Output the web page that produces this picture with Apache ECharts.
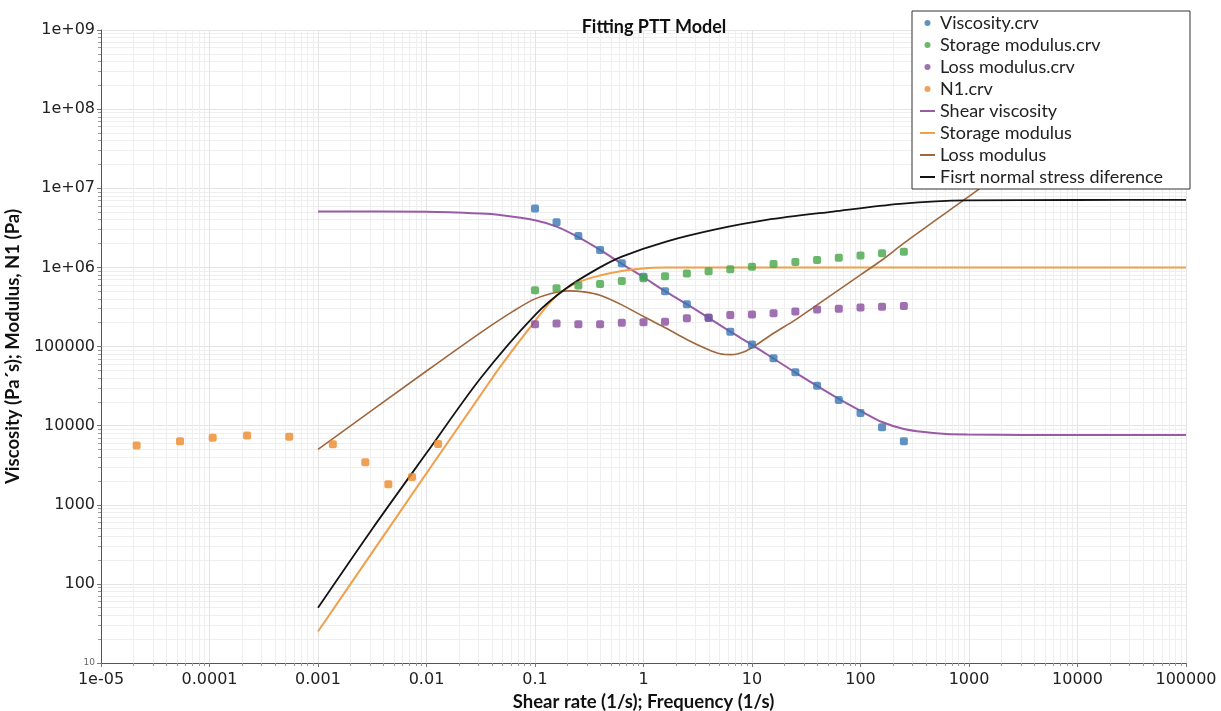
<!DOCTYPE html>
<html><head><meta charset="utf-8">
<script src="https://cdn.jsdelivr.net/npm/echarts@6/dist/echarts.min.js"></script>
<style>html,body{margin:0;padding:0;background:#fff}#c{width:1221px;height:711px}</style>
</head><body><div id="c"></div>
<script>
// ---------- data ----------
const titleText = 'Fitting PTT Model';
const xAxisTitle = 'Shear rate (1/s); Frequency (1/s)';
const yAxisTitle = 'Viscosity (Pa´s); Modulus, N1 (Pa)';
const xTickLabels = ['1e-05','0.0001','0.001','0.01','0.1','1','10','100','1000','10000','100000'];
const yTickLabels = ['10','100','1000','10000','100000','1e+06','1e+07','1e+08','1e+09'];

const seriesNames = ['Viscosity.crv','Storage modulus.crv','Loss modulus.crv','N1.crv',
  'Shear viscosity','Storage modulus','Loss modulus','Fisrt normal stress diference'];

// measured points (frequency / shear rate)
const measFreq = [0.1,0.158,0.251,0.398,0.631,1,1.58,2.51,3.98,6.31,10,15.8,25.1,39.8,63.1,100,158,251];
const viscosityPts = [5.54e6,3.73e6,2.50e6,1.66e6,1.13e6,7.6e5,5.0e5,3.43e5,2.30e5,1.54e5,1.06e5,7.11e4,4.73e4,3.18e4,2.11e4,1.44e4,9550,6350];
const storagePts = [5.15e5,5.46e5,5.89e5,6.18e5,6.75e5,7.30e5,7.74e5,8.35e5,8.96e5,9.49e5,1.02e6,1.10e6,1.17e6,1.24e6,1.32e6,1.41e6,1.51e6,1.58e6];
const lossPts = [1.91e5,1.95e5,1.91e5,1.91e5,2.00e5,2.03e5,2.06e5,2.28e5,2.32e5,2.51e5,2.53e5,2.64e5,2.76e5,2.93e5,3.01e5,3.10e5,3.17e5,3.26e5];
const n1Rate = [2.13e-5,5.35e-5,1.07e-4,2.22e-4,5.43e-4,1.37e-3,2.73e-3,4.45e-3,7.35e-3,0.0128];
const n1Pts = [5590,6350,7050,7480,7260,5820,3440,1815,2245,5870];

// model curves
const shearX = [0.001,0.01,0.0316,0.0475,0.1,0.158,0.251,0.398,0.631,1,1.58,2.51,3.98,6.31,10,15.8,25.1,39.8,63.1,100,158,251,466,959,10000,100000];
const shearY = [5.1e6,5.05e6,4.8e6,4.6e6,3.95e6,3.28e6,2.41e6,1.66e6,1.11e6,7.5e5,5.0e5,3.43e5,2.30e5,1.54e5,1.05e5,7.03e4,4.68e4,3.18e4,2.18e4,1.54e4,1.11e4,9080,8090,7700,7600,7600];
const storX = [0.001,0.00316,0.01,0.0316,0.0475,0.1,0.158,0.251,0.397,0.631,1,1.58,3.98,10,100,1000,10000,100000];
const storY = [25,250,2500,2.45e4,5.5e4,2.1e5,4.4e5,6.5e5,7.9e5,9.0e5,9.7e5,9.95e5,1.0e6,1.0e6,1.0e6,1.0e6,1.0e6,1.0e6];
const lossX = [0.001,0.01,0.0316,0.0631,0.1,0.158,0.21,0.282,0.397,0.632,1,1.62,2.55,3.98,5.07,6.5,8.5,10.4,15.8,25.1,39.8,63.1,100,158,251,668,1000,10000,100000];
const lossY = [5000,4.9e4,1.5e5,2.8e5,4.0e5,4.85e5,5.05e5,4.9e5,4.45e5,3.36e5,2.39e5,1.70e5,1.21e5,9.1e4,8.1e4,7.9e4,8.6e4,1.0e5,1.47e5,2.17e5,3.36e5,5.2e5,8.04e5,1.24e6,2.02e6,5.33e6,7.9e6,7.9e7,7.9e8];
const n1FitX = [0.001,0.00316,0.01,0.0316,0.1,0.2,0.397,0.632,1.62,4.73,13.6,56.1,231,952,10000,100000];
const n1FitY = [50,495,4500,4.0e4,2.5e5,5.6e5,1.0e6,1.37e6,2.12e6,3.04e6,3.98e6,5.08e6,6.35e6,7.03e6,7.1e6,7.13e6];

// ---------- chart ----------
const pair = (xs, ys) => xs.map((x, i) => [x, ys[i]]);
const FONT = 'Lato';
const lineIcon = 'path://M0,0L15,0L15,2L0,2Z';

const scatter = (name, xs, ys, color) => ({
  name, type: 'scatter', data: pair(xs, ys), symbol: 'roundRect', symbolSize: 8,
  itemStyle: { color }, z: 3
});
const curve = (name, xs, ys, color, w) => ({
  name, type: 'line', data: pair(xs, ys), showSymbol: false, symbol: 'none',
  smooth: 0.3, lineStyle: { color, width: w }, itemStyle: { color }, z: 2
});

const chart = echarts.init(document.getElementById('c'), null, { renderer: 'canvas' });
chart.setOption({
  animation: false,
  backgroundColor: '#fff',
  title: {
    text: titleText, left: 649, top: 13, textAlign: 'center',
    textStyle: { fontFamily: FONT, fontSize: 18, fontWeight: 'bold', color: '#111' }
  },
  legend: {
    orient: 'vertical', left: 912, top: 11,
    backgroundColor: '#fff', borderColor: '#333', borderWidth: 1,
    padding: [3, 27, 3, 8], itemWidth: 15, itemHeight: 6, itemGap: 4, itemTextGap: 8,
    textStyle: { fontFamily: FONT, fontSize: 18, lineHeight: 18, color: '#222' },
    data: seriesNames.map((n, i) => ({ name: n, icon: i < 4 ? 'circle' : lineIcon }))
  },
  grid: { left: 101, right: 35, top: 30, bottom: 48, containLabel: false, outerBoundsMode: 'none' },
  xAxis: {
    type: 'log', logBase: 10, min: 1e-5, max: 1e5, interval: 1,
    name: xAxisTitle, nameLocation: 'middle', nameGap: 27,
    nameTextStyle: { fontFamily: FONT, fontSize: 18.5, fontWeight: 'bold', color: '#111' },
    axisLine: { lineStyle: { color: '#555', width: 1 } },
    axisTick: { show: true, length: 4, lineStyle: { color: '#777' } },
    minorTick: { show: true, splitNumber: 9, length: 3, lineStyle: { color: '#999' } },
    splitLine: { show: true, lineStyle: { color: '#e4e4e4', width: 1 } },
    minorSplitLine: { show: true, lineStyle: { color: '#efefef', width: 1 } },
    axisLabel: {
      margin: 9, fontFamily: 'DejaVu Sans', fontSize: 16, color: '#222', showMinLabel: true, showMaxLabel: true,
      hideOverlap: false,
      formatter: v => xTickLabels[Math.round(Math.log10(v)) + 5]
    }
  },
  yAxis: {
    type: 'log', logBase: 10, min: 10, max: 1e9, interval: 1,
    name: yAxisTitle, nameLocation: 'middle', nameGap: 69, nameRotate: 90,
    nameTextStyle: { fontFamily: FONT, fontSize: 18.5, fontWeight: 'bold', color: '#111' },
    axisLine: { show: true, lineStyle: { color: '#555', width: 1 } },
    axisTick: { show: true, length: 4, lineStyle: { color: '#777' } },
    minorTick: { show: true, splitNumber: 9, length: 3, lineStyle: { color: '#999' } },
    splitLine: { show: true, lineStyle: { color: '#e4e4e4', width: 1 } },
    minorSplitLine: { show: true, lineStyle: { color: '#efefef', width: 1 } },
    axisLabel: {
      margin: 6, fontFamily: 'DejaVu Sans', fontSize: 16, color: '#222',
      formatter: v => {
        const k = Math.round(Math.log10(v)) - 1;
        return k === 0 ? '{s|' + yTickLabels[k] + '}' : yTickLabels[k];
      },
      rich: { s: { fontSize: 9, color: '#666', fontFamily: 'DejaVu Sans' } }
    }
  },
  series: [
    curve(seriesNames[4], shearX, shearY, '#9a5ba6', 2),
    curve(seriesNames[5], storX, storY, '#f0a04b', 2),
    curve(seriesNames[6], lossX, lossY, '#a0673d', 1.6),
    curve(seriesNames[7], n1FitX, n1FitY, '#141414', 1.8),
    scatter(seriesNames[0], measFreq, viscosityPts, '#3a77b3'),
    scatter(seriesNames[1], measFreq, storagePts, '#46a649'),
    scatter(seriesNames[2], measFreq, lossPts, '#884c9c'),
    scatter(seriesNames[3], n1Rate, n1Pts, '#ee8a2c')
  ]
});
</script></body></html>
